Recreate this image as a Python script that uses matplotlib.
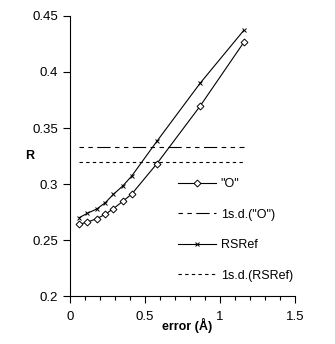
import matplotlib
matplotlib.use("Agg")
import matplotlib.pyplot as plt
from matplotlib.ticker import MultipleLocator

plt.rcParams["font.family"] = ["Liberation Sans", "DejaVu Sans"]
plt.rcParams["font.size"] = 9

err = [0.062, 0.115, 0.178, 0.235, 0.289, 0.351, 0.411, 0.578, 0.867, 1.158]
r_o = [0.264, 0.266, 0.269, 0.273, 0.278, 0.2845, 0.291, 0.318, 0.3696, 0.4265]
r_rsref = [0.270, 0.2738, 0.2777, 0.2833, 0.2908, 0.2982, 0.3071, 0.338, 0.390, 0.4372]
sd_o = 0.333
sd_rsref = 0.320

fig = plt.figure(figsize=(3.35, 3.44), dpi=100)
ax = fig.add_axes([0.209, 0.1395, 0.672, 0.814])

ax.plot(err, r_o, '-', color='black', lw=0.8, marker='D', ms=3.5,
        mfc='white', mec='black', mew=0.7, label='"O"')
ax.plot([err[0], err[-1]], [sd_o, sd_o], color='black', lw=0.8,
        dashes=(4, 4, 4, 4, 12, 4), label='1s.d.("O")')
ax.plot(err, r_rsref, '-', color='black', lw=0.8, marker='x', ms=3.5,
        mew=0.7, label='RSRef')
ax.plot([err[0], err[-1]], [sd_rsref, sd_rsref], color='black', lw=0.8,
        dashes=(3, 3), label='1s.d.(RSRef)')

ax.set_xlim(0, 1.5)
ax.set_ylim(0.2, 0.45)
ax.xaxis.set_minor_locator(MultipleLocator(0.1))
ax.set_xticks([0, 0.5, 1, 1.5])
ax.set_xticklabels(["0", "0.5", "1", "1.5"])
ax.set_yticks([0.2, 0.25, 0.3, 0.35, 0.4, 0.45])
ax.set_yticklabels(["0.2", "0.25", "0.3", "0.35", "0.4", "0.45"])
ax.tick_params(which='major', direction='out', length=5, width=0.8, labelsize=9.5)
ax.tick_params(axis='x', which='major', pad=6)
ax.tick_params(axis='y', which='major', pad=3.5)
ax.tick_params(which='minor', direction='out', length=3, width=0.8)

ax.spines['top'].set_visible(False)
ax.spines['right'].set_visible(False)
ax.spines['left'].set_linewidth(0.8)
ax.spines['bottom'].set_linewidth(0.8)

ax.set_xlabel("error (Å)", fontweight='bold', fontsize=9, va='center')
ax.xaxis.set_label_coords(0.52, -0.104)
ax.set_ylabel("R", fontweight='bold', fontsize=9, rotation=0, va='center')
ax.yaxis.set_label_coords(-0.18, 0.5)

ax.legend(loc='upper left', bbox_to_anchor=(0.43, 0.46), frameon=False,
          fontsize=9, handlelength=3.0, labelspacing=1.47, handletextpad=0.4)

fig.savefig("out.png", dpi=100)
